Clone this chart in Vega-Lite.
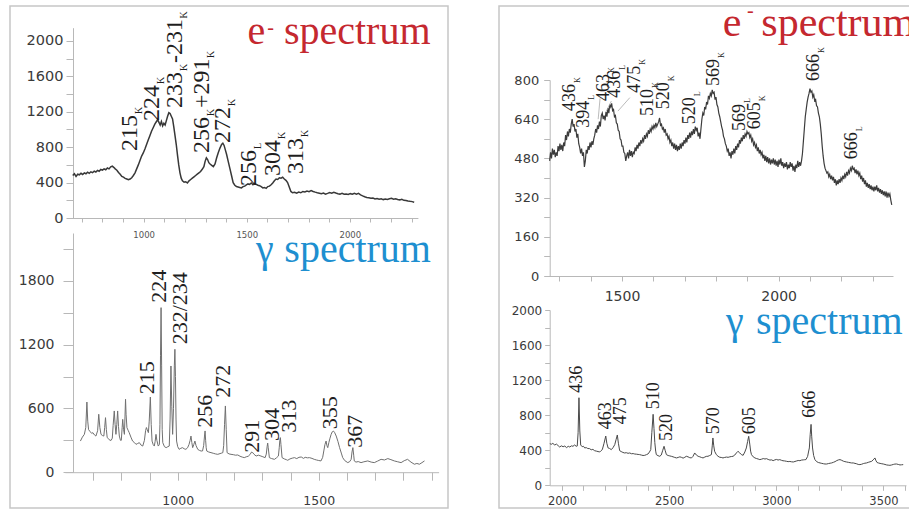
{
"$schema":"https://vega.github.io/schema/vega-lite/v6.json",
"padding":{"left":9,"top":5,"right":0,"bottom":3},
"background":"white",
"spacing":49,
"config":{"view":{"stroke":"#c6c6c6","strokeWidth":1.5},"axis":{"grid":false,"domainColor":"#b8b8b8","tickColor":"#b8b8b8","labelColor":"#3a3a3a","labelFont":"DejaVu Sans","labelFlush":false,"labelOverlap":false,"labelBound":false,"tickCount":100}},
"datasets":{
"ltLine":[{"x":656,"y":480},{"x":664,"y":500},{"x":672,"y":470},{"x":680,"y":495},{"x":688,"y":488},{"x":696,"y":505},{"x":704,"y":492},{"x":712,"y":510},{"x":720,"y":500},{"x":728,"y":518},{"x":736,"y":505},{"x":744,"y":522},{"x":752,"y":512},{"x":760,"y":530},{"x":768,"y":520},{"x":776,"y":538},{"x":784,"y":528},{"x":792,"y":548},{"x":800,"y":540},{"x":808,"y":555},{"x":816,"y":545},{"x":824,"y":565},{"x":832,"y":555},{"x":840,"y":578},{"x":848,"y":585},{"x":856,"y":570},{"x":862,"y":555},{"x":870,"y":540},{"x":878,"y":515},{"x":886,"y":495},{"x":894,"y":470},{"x":902,"y":462},{"x":910,"y":448},{"x":918,"y":440},{"x":926,"y":432},{"x":934,"y":440},{"x":942,"y":455},{"x":950,"y":480},{"x":958,"y":510},{"x":966,"y":555},{"x":974,"y":600},{"x":982,"y":650},{"x":990,"y":700},{"x":998,"y":735},{"x":1006,"y":780},{"x":1014,"y":830},{"x":1022,"y":880},{"x":1030,"y":930},{"x":1038,"y":980},{"x":1046,"y":1020},{"x":1054,"y":1060},{"x":1062,"y":1090},{"x":1068,"y":1110},{"x":1074,"y":1080},{"x":1080,"y":1050},{"x":1086,"y":1090},{"x":1092,"y":1040},{"x":1098,"y":1070},{"x":1104,"y":1050},{"x":1110,"y":1100},{"x":1116,"y":1150},{"x":1122,"y":1190},{"x":1128,"y":1180},{"x":1134,"y":1150},{"x":1140,"y":1120},{"x":1146,"y":1030},{"x":1152,"y":930},{"x":1158,"y":830},{"x":1164,"y":710},{"x":1170,"y":600},{"x":1176,"y":510},{"x":1182,"y":450},{"x":1188,"y":420},{"x":1196,"y":405},{"x":1204,"y":410},{"x":1212,"y":395},{"x":1220,"y":420},{"x":1228,"y":435},{"x":1236,"y":450},{"x":1244,"y":465},{"x":1252,"y":480},{"x":1260,"y":495},{"x":1268,"y":510},{"x":1276,"y":525},{"x":1284,"y":550},{"x":1292,"y":580},{"x":1298,"y":640},{"x":1304,"y":680},{"x":1310,"y":660},{"x":1316,"y":625},{"x":1322,"y":610},{"x":1330,"y":595},{"x":1338,"y":580},{"x":1346,"y":610},{"x":1354,"y":680},{"x":1362,"y":740},{"x":1370,"y":790},{"x":1378,"y":830},{"x":1384,"y":845},{"x":1390,"y":820},{"x":1396,"y":770},{"x":1402,"y":720},{"x":1410,"y":640},{"x":1418,"y":560},{"x":1426,"y":480},{"x":1434,"y":400},{"x":1442,"y":370},{"x":1450,"y":355},{"x":1458,"y":350},{"x":1466,"y":345},{"x":1474,"y":340},{"x":1482,"y":355},{"x":1490,"y":360},{"x":1498,"y":375},{"x":1506,"y":385},{"x":1514,"y":380},{"x":1522,"y":395},{"x":1530,"y":375},{"x":1538,"y":390},{"x":1546,"y":380},{"x":1554,"y":370},{"x":1562,"y":365},{"x":1570,"y":355},{"x":1578,"y":340},{"x":1586,"y":345},{"x":1594,"y":335},{"x":1602,"y":355},{"x":1610,"y":360},{"x":1618,"y":375},{"x":1626,"y":395},{"x":1634,"y":420},{"x":1642,"y":440},{"x":1650,"y":435},{"x":1658,"y":455},{"x":1666,"y":450},{"x":1674,"y":460},{"x":1682,"y":440},{"x":1690,"y":425},{"x":1698,"y":400},{"x":1706,"y":350},{"x":1714,"y":300},{"x":1722,"y":285},{"x":1732,"y":290},{"x":1742,"y":280},{"x":1752,"y":292},{"x":1762,"y":285},{"x":1772,"y":300},{"x":1782,"y":295},{"x":1792,"y":305},{"x":1802,"y":298},{"x":1812,"y":310},{"x":1822,"y":300},{"x":1832,"y":292},{"x":1842,"y":285},{"x":1852,"y":280},{"x":1862,"y":275},{"x":1872,"y":282},{"x":1882,"y":270},{"x":1892,"y":278},{"x":1902,"y":288},{"x":1912,"y":280},{"x":1922,"y":290},{"x":1932,"y":282},{"x":1942,"y":275},{"x":1952,"y":270},{"x":1962,"y":278},{"x":1972,"y":268},{"x":1982,"y":272},{"x":1992,"y":265},{"x":2002,"y":275},{"x":2012,"y":268},{"x":2022,"y":280},{"x":2032,"y":270},{"x":2042,"y":278},{"x":2052,"y":262},{"x":2062,"y":250},{"x":2072,"y":240},{"x":2082,"y":232},{"x":2092,"y":228},{"x":2102,"y":222},{"x":2112,"y":225},{"x":2122,"y":215},{"x":2132,"y":220},{"x":2142,"y":212},{"x":2152,"y":218},{"x":2162,"y":208},{"x":2172,"y":215},{"x":2182,"y":210},{"x":2192,"y":218},{"x":2202,"y":222},{"x":2212,"y":212},{"x":2222,"y":218},{"x":2232,"y":210},{"x":2242,"y":205},{"x":2252,"y":212},{"x":2262,"y":200},{"x":2272,"y":198},{"x":2282,"y":192},{"x":2292,"y":188},{"x":2302,"y":185},{"x":2312,"y":178}],
"ltText":[{"x":933.6,"y":757,"t":"215","k":"lab"},{"x":1040.3,"y":1096,"t":"224","k":"lab"},{"x":1151.8,"y":1243,"t":"233","k":"lab"},{"x":1151.8,"y":1751,"t":"-231","k":"lab"},{"x":1282.7,"y":734,"t":"256","k":"lab"},{"x":1282.7,"y":1243,"t":"+291","k":"lab"},{"x":1384.6,"y":847,"t":"272","k":"lab"},{"x":1510.7,"y":362,"t":"256","k":"lab"},{"x":1627,"y":475,"t":"304","k":"lab"},{"x":1738.6,"y":497,"t":"313","k":"lab"},
{"x":977.2,"y":1175,"t":"K","k":"sub"},{"x":1083.9,"y":1514,"t":"K","k":"sub"},{"x":1195.4,"y":1661,"t":"K","k":"sub"},{"x":1195.4,"y":2254,"t":"K","k":"sub"},{"x":1326.3,"y":1153,"t":"K","k":"sub"},{"x":1326.3,"y":1808,"t":"K","k":"sub"},{"x":1428.2,"y":1266,"t":"K","k":"sub"},{"x":1554.3,"y":780,"t":"L","k":"sub"},{"x":1670.6,"y":893,"t":"K","k":"sub"},{"x":1782.2,"y":915,"t":"K","k":"sub"},
{"x":1504,"y":1963,"t":"e","k":"ttl"},{"x":1680,"y":1963,"t":"spectrum","k":"ttl"},{"x":1615,"y":2147,"t":"-","k":"sup"}],
"lbLine":[{"x":655,"y":293},{"x":662,"y":330},{"x":669,"y":356},{"x":674,"y":420},{"x":678,"y":660},{"x":681,"y":480},{"x":684,"y":400},{"x":690,"y":380},{"x":695,"y":365},{"x":699,"y":372},{"x":705,"y":350},{"x":710,"y":340},{"x":716,"y":390},{"x":720,"y":545},{"x":724,"y":420},{"x":728,"y":356},{"x":733,"y":345},{"x":738,"y":340},{"x":741,"y":420},{"x":744,"y":513},{"x":747,"y":400},{"x":750,"y":325},{"x":756,"y":310},{"x":760,"y":300},{"x":764,"y":300},{"x":768,"y":320},{"x":771,"y":440},{"x":775,"y":576},{"x":778,"y":450},{"x":781,"y":356},{"x":784,"y":450},{"x":787,"y":576},{"x":790,"y":430},{"x":793,"y":340},{"x":797,"y":300},{"x":800,"y":300},{"x":803,"y":420},{"x":805,"y":497},{"x":808,"y":400},{"x":811,"y":356},{"x":813,"y":520},{"x":815,"y":686},{"x":817,"y":540},{"x":820,"y":419},{"x":824,"y":395},{"x":828,"y":372},{"x":834,"y":330},{"x":840,"y":293},{"x":846,"y":280},{"x":852,"y":262},{"x":858,"y":270},{"x":864,"y":278},{"x":870,"y":255},{"x":876,"y":246},{"x":882,"y":300},{"x":886,"y":390},{"x":889,"y":420},{"x":892,"y":400},{"x":896,"y":372},{"x":899,"y":480},{"x":903,"y":707},{"x":906,"y":450},{"x":909,"y":293},{"x":913,"y":260},{"x":917,"y":246},{"x":920,"y":290},{"x":923,"y":356},{"x":926,"y":300},{"x":931,"y":246},{"x":935,"y":260},{"x":937,"y":450},{"x":939,"y":1100},{"x":941,"y":1548},{"x":943,"y":1000},{"x":945,"y":400},{"x":947,"y":278},{"x":953,"y":240},{"x":959,"y":231},{"x":965,"y":240},{"x":970,"y":246},{"x":973,"y":500},{"x":976,"y":999},{"x":979,"y":620},{"x":982,"y":356},{"x":985,"y":600},{"x":988,"y":1000},{"x":990,"y":1156},{"x":992,"y":900},{"x":994,"y":500},{"x":996,"y":293},{"x":1000,"y":240},{"x":1005,"y":215},{"x":1011,"y":225},{"x":1017,"y":231},{"x":1023,"y":220},{"x":1029,"y":215},{"x":1035,"y":230},{"x":1040,"y":260},{"x":1044,"y":300},{"x":1047,"y":340},{"x":1050,"y":280},{"x":1053,"y":231},{"x":1057,"y":260},{"x":1061,"y":293},{"x":1065,"y":250},{"x":1071,"y":215},{"x":1077,"y":205},{"x":1083,"y":199},{"x":1088,"y":200},{"x":1092,"y":250},{"x":1095,"y":340},{"x":1097,"y":388},{"x":1099,"y":300},{"x":1101,"y":230},{"x":1103,"y":199},{"x":1110,"y":190},{"x":1118,"y":184},{"x":1126,"y":178},{"x":1134,"y":172},{"x":1142,"y":168},{"x":1150,"y":175},{"x":1156,"y":180},{"x":1160,"y":184},{"x":1163,"y":250},{"x":1166,"y":450},{"x":1169,"y":623},{"x":1172,"y":400},{"x":1175,"y":184},{"x":1182,"y":172},{"x":1189,"y":168},{"x":1197,"y":165},{"x":1205,"y":160},{"x":1213,"y":162},{"x":1221,"y":150},{"x":1229,"y":142},{"x":1236,"y":137},{"x":1243,"y":145},{"x":1250,"y":150},{"x":1256,"y":165},{"x":1262,"y":190},{"x":1266,"y":184},{"x":1270,"y":170},{"x":1278,"y":152},{"x":1286,"y":160},{"x":1295,"y":152},{"x":1302,"y":145},{"x":1310,"y":137},{"x":1314,"y":170},{"x":1317,"y":240},{"x":1319,"y":274},{"x":1321,"y":230},{"x":1325,"y":137},{"x":1333,"y":128},{"x":1343,"y":121},{"x":1350,"y":135},{"x":1357,"y":152},{"x":1360,"y":230},{"x":1362,"y":300},{"x":1364,"y":325},{"x":1366,"y":260},{"x":1370,"y":137},{"x":1378,"y":125},{"x":1385,"y":118},{"x":1390,"y":112},{"x":1398,"y":125},{"x":1406,"y":132},{"x":1414,"y":137},{"x":1422,"y":128},{"x":1430,"y":140},{"x":1438,"y":143},{"x":1446,"y":130},{"x":1452,"y":140},{"x":1460,"y":135},{"x":1467,"y":137},{"x":1476,"y":130},{"x":1484,"y":121},{"x":1492,"y":115},{"x":1500,"y":110},{"x":1508,"y":106},{"x":1514,"y":140},{"x":1518,"y":200},{"x":1522,"y":260},{"x":1526,"y":293},{"x":1529,"y":250},{"x":1532,"y":231},{"x":1536,"y":280},{"x":1540,"y":320},{"x":1544,"y":356},{"x":1548,"y":380},{"x":1552,"y":387},{"x":1556,"y":375},{"x":1562,"y":340},{"x":1568,"y":290},{"x":1574,"y":231},{"x":1580,"y":180},{"x":1585,"y":137},{"x":1592,"y":110},{"x":1603,"y":90},{"x":1610,"y":100},{"x":1615,"y":121},{"x":1618,"y":190},{"x":1621,"y":231},{"x":1624,"y":160},{"x":1626,"y":106},{"x":1632,"y":95},{"x":1640,"y":100},{"x":1650,"y":90},{"x":1660,"y":98},{"x":1674,"y":106},{"x":1686,"y":95},{"x":1697,"y":90},{"x":1709,"y":105},{"x":1721,"y":121},{"x":1733,"y":115},{"x":1745,"y":128},{"x":1756,"y":118},{"x":1768,"y":106},{"x":1780,"y":98},{"x":1792,"y":90},{"x":1803,"y":108},{"x":1815,"y":121},{"x":1827,"y":95},{"x":1839,"y":75},{"x":1848,"y":82},{"x":1857,"y":75},{"x":1866,"y":90},{"x":1875,"y":106}],
"lbText":[{"x":891,"y":733,"t":"215","k":"lab"},{"x":932,"y":1595,"t":"224","k":"lab"},{"x":1008,"y":1203,"t":"232/234","k":"lab"},{"x":1097,"y":419,"t":"256","k":"lab"},{"x":1162,"y":701,"t":"272","k":"lab"},{"x":1263,"y":183,"t":"291","k":"lab"},{"x":1334,"y":294,"t":"304","k":"lab"},{"x":1393,"y":372,"t":"313","k":"lab"},{"x":1540,"y":404,"t":"355","k":"lab"},{"x":1629,"y":230,"t":"367","k":"lab"},{"x":1278,"y":1977,"t":"γ","k":"ttl"},{"x":1378,"y":1977,"t":"spectrum","k":"ttl"}],
"rtLine":[{"x":1269,"y":470},{"x":1272,"y":505},{"x":1275,"y":480},{"x":1278,"y":520},{"x":1281,"y":495},{"x":1284,"y":515},{"x":1287,"y":485},{"x":1290,"y":505},{"x":1293,"y":490},{"x":1296,"y":530},{"x":1299,"y":510},{"x":1302,"y":540},{"x":1305,"y":515},{"x":1308,"y":535},{"x":1311,"y":510},{"x":1314,"y":545},{"x":1317,"y":530},{"x":1320,"y":575},{"x":1323,"y":555},{"x":1326,"y":590},{"x":1329,"y":570},{"x":1332,"y":600},{"x":1335,"y":585},{"x":1338,"y":620},{"x":1341,"y":640},{"x":1344,"y":610},{"x":1347,"y":620},{"x":1350,"y":590},{"x":1353,"y":600},{"x":1356,"y":565},{"x":1359,"y":580},{"x":1362,"y":540},{"x":1365,"y":525},{"x":1368,"y":500},{"x":1371,"y":520},{"x":1374,"y":490},{"x":1377,"y":505},{"x":1380,"y":445},{"x":1383,"y":470},{"x":1386,"y":515},{"x":1389,"y":500},{"x":1392,"y":530},{"x":1395,"y":515},{"x":1398,"y":545},{"x":1401,"y":525},{"x":1404,"y":550},{"x":1407,"y":535},{"x":1410,"y":560},{"x":1413,"y":575},{"x":1416,"y":600},{"x":1419,"y":585},{"x":1422,"y":615},{"x":1425,"y":600},{"x":1428,"y":630},{"x":1431,"y":610},{"x":1434,"y":655},{"x":1437,"y":665},{"x":1440,"y":640},{"x":1443,"y":655},{"x":1446,"y":635},{"x":1449,"y":670},{"x":1452,"y":650},{"x":1455,"y":685},{"x":1458,"y":665},{"x":1461,"y":700},{"x":1464,"y":690},{"x":1467,"y":705},{"x":1470,"y":675},{"x":1473,"y":680},{"x":1476,"y":650},{"x":1479,"y":655},{"x":1482,"y":625},{"x":1485,"y":620},{"x":1488,"y":595},{"x":1491,"y":590},{"x":1494,"y":560},{"x":1497,"y":555},{"x":1500,"y":530},{"x":1503,"y":530},{"x":1506,"y":505},{"x":1509,"y":500},{"x":1512,"y":470},{"x":1515,"y":490},{"x":1518,"y":505},{"x":1521,"y":480},{"x":1524,"y":515},{"x":1527,"y":490},{"x":1530,"y":510},{"x":1533,"y":485},{"x":1536,"y":505},{"x":1539,"y":500},{"x":1542,"y":525},{"x":1545,"y":510},{"x":1548,"y":535},{"x":1551,"y":520},{"x":1554,"y":545},{"x":1557,"y":530},{"x":1560,"y":555},{"x":1563,"y":540},{"x":1566,"y":560},{"x":1569,"y":550},{"x":1572,"y":575},{"x":1575,"y":560},{"x":1578,"y":580},{"x":1581,"y":570},{"x":1584,"y":595},{"x":1587,"y":580},{"x":1590,"y":600},{"x":1593,"y":590},{"x":1596,"y":610},{"x":1599,"y":600},{"x":1602,"y":615},{"x":1605,"y":605},{"x":1608,"y":625},{"x":1611,"y":610},{"x":1614,"y":620},{"x":1617,"y":630},{"x":1620,"y":645},{"x":1623,"y":615},{"x":1626,"y":620},{"x":1629,"y":600},{"x":1632,"y":605},{"x":1635,"y":585},{"x":1638,"y":600},{"x":1641,"y":575},{"x":1644,"y":580},{"x":1647,"y":560},{"x":1650,"y":570},{"x":1653,"y":545},{"x":1656,"y":555},{"x":1659,"y":530},{"x":1662,"y":545},{"x":1665,"y":520},{"x":1668,"y":540},{"x":1671,"y":515},{"x":1674,"y":535},{"x":1677,"y":510},{"x":1680,"y":530},{"x":1683,"y":515},{"x":1686,"y":540},{"x":1689,"y":520},{"x":1692,"y":545},{"x":1695,"y":530},{"x":1698,"y":555},{"x":1701,"y":540},{"x":1704,"y":565},{"x":1707,"y":545},{"x":1710,"y":575},{"x":1713,"y":560},{"x":1716,"y":585},{"x":1719,"y":565},{"x":1722,"y":590},{"x":1725,"y":575},{"x":1728,"y":600},{"x":1731,"y":580},{"x":1734,"y":610},{"x":1737,"y":595},{"x":1740,"y":605},{"x":1743,"y":570},{"x":1746,"y":585},{"x":1749,"y":560},{"x":1752,"y":600},{"x":1755,"y":640},{"x":1758,"y":665},{"x":1761,"y":655},{"x":1764,"y":690},{"x":1767,"y":680},{"x":1770,"y":710},{"x":1773,"y":700},{"x":1776,"y":735},{"x":1779,"y":725},{"x":1782,"y":745},{"x":1785,"y":735},{"x":1788,"y":760},{"x":1791,"y":745},{"x":1794,"y":750},{"x":1797,"y":720},{"x":1800,"y":730},{"x":1803,"y":700},{"x":1806,"y":690},{"x":1809,"y":665},{"x":1812,"y":650},{"x":1815,"y":630},{"x":1818,"y":610},{"x":1821,"y":595},{"x":1824,"y":570},{"x":1827,"y":560},{"x":1830,"y":540},{"x":1833,"y":530},{"x":1836,"y":510},{"x":1839,"y":520},{"x":1842,"y":490},{"x":1845,"y":505},{"x":1848,"y":480},{"x":1851,"y":510},{"x":1854,"y":495},{"x":1857,"y":520},{"x":1860,"y":500},{"x":1863,"y":530},{"x":1866,"y":515},{"x":1869,"y":540},{"x":1872,"y":525},{"x":1875,"y":555},{"x":1878,"y":540},{"x":1881,"y":565},{"x":1884,"y":550},{"x":1887,"y":575},{"x":1890,"y":560},{"x":1893,"y":580},{"x":1896,"y":570},{"x":1899,"y":590},{"x":1902,"y":580},{"x":1905,"y":585},{"x":1908,"y":565},{"x":1911,"y":575},{"x":1914,"y":550},{"x":1917,"y":560},{"x":1920,"y":535},{"x":1923,"y":545},{"x":1926,"y":525},{"x":1929,"y":535},{"x":1932,"y":510},{"x":1935,"y":525},{"x":1938,"y":500},{"x":1941,"y":515},{"x":1944,"y":495},{"x":1947,"y":505},{"x":1950,"y":480},{"x":1953,"y":495},{"x":1956,"y":470},{"x":1959,"y":490},{"x":1962,"y":465},{"x":1965,"y":485},{"x":1968,"y":460},{"x":1971,"y":480},{"x":1974,"y":455},{"x":1977,"y":475},{"x":1980,"y":460},{"x":1983,"y":480},{"x":1986,"y":455},{"x":1989,"y":475},{"x":1992,"y":450},{"x":1995,"y":470},{"x":1998,"y":445},{"x":2001,"y":475},{"x":2004,"y":455},{"x":2007,"y":480},{"x":2010,"y":450},{"x":2013,"y":465},{"x":2016,"y":440},{"x":2019,"y":460},{"x":2022,"y":445},{"x":2025,"y":465},{"x":2028,"y":435},{"x":2031,"y":455},{"x":2034,"y":440},{"x":2037,"y":465},{"x":2040,"y":445},{"x":2043,"y":460},{"x":2046,"y":430},{"x":2049,"y":450},{"x":2052,"y":425},{"x":2055,"y":455},{"x":2058,"y":440},{"x":2061,"y":470},{"x":2064,"y":445},{"x":2067,"y":465},{"x":2070,"y":450},{"x":2073,"y":470},{"x":2076,"y":500},{"x":2079,"y":550},{"x":2082,"y":600},{"x":2085,"y":650},{"x":2088,"y":680},{"x":2091,"y":710},{"x":2094,"y":730},{"x":2097,"y":745},{"x":2100,"y":765},{"x":2103,"y":750},{"x":2106,"y":755},{"x":2109,"y":730},{"x":2112,"y":740},{"x":2115,"y":715},{"x":2118,"y":720},{"x":2121,"y":695},{"x":2124,"y":690},{"x":2127,"y":665},{"x":2130,"y":650},{"x":2133,"y":620},{"x":2136,"y":580},{"x":2139,"y":530},{"x":2142,"y":490},{"x":2145,"y":460},{"x":2148,"y":440},{"x":2151,"y":430},{"x":2154,"y":420},{"x":2157,"y":425},{"x":2160,"y":405},{"x":2163,"y":415},{"x":2166,"y":395},{"x":2169,"y":410},{"x":2172,"y":390},{"x":2175,"y":405},{"x":2178,"y":380},{"x":2181,"y":395},{"x":2184,"y":370},{"x":2187,"y":390},{"x":2190,"y":375},{"x":2193,"y":395},{"x":2196,"y":380},{"x":2199,"y":400},{"x":2202,"y":390},{"x":2205,"y":410},{"x":2208,"y":395},{"x":2211,"y":415},{"x":2214,"y":405},{"x":2217,"y":425},{"x":2220,"y":410},{"x":2223,"y":430},{"x":2226,"y":420},{"x":2229,"y":440},{"x":2232,"y":430},{"x":2235,"y":450},{"x":2238,"y":435},{"x":2241,"y":440},{"x":2244,"y":420},{"x":2247,"y":435},{"x":2250,"y":415},{"x":2253,"y":430},{"x":2256,"y":410},{"x":2259,"y":420},{"x":2262,"y":395},{"x":2265,"y":410},{"x":2268,"y":385},{"x":2271,"y":400},{"x":2274,"y":375},{"x":2277,"y":390},{"x":2280,"y":365},{"x":2283,"y":380},{"x":2286,"y":360},{"x":2289,"y":375},{"x":2292,"y":355},{"x":2295,"y":370},{"x":2298,"y":350},{"x":2301,"y":365},{"x":2304,"y":345},{"x":2307,"y":365},{"x":2310,"y":350},{"x":2313,"y":370},{"x":2316,"y":345},{"x":2319,"y":360},{"x":2322,"y":340},{"x":2325,"y":355},{"x":2328,"y":335},{"x":2331,"y":350},{"x":2334,"y":330},{"x":2337,"y":345},{"x":2340,"y":325},{"x":2343,"y":345},{"x":2346,"y":320},{"x":2349,"y":340},{"x":2352,"y":325},{"x":2355,"y":335},{"x":2358,"y":310},{"x":2361,"y":290}],
"rtText":[{"x":1335.6,"y":673.5,"t":"436","k":"lab"},{"x":1378.7,"y":605.3,"t":"394","k":"lab"},{"x":1442.5,"y":714.3,"t":"463","k":"lab"},{"x":1477.7,"y":727.8,"t":"436","k":"lab"},{"x":1541.5,"y":748.2,"t":"475","k":"lab"},{"x":1583,"y":653,"t":"510","k":"lab"},{"x":1634.1,"y":680.4,"t":"520","k":"lab"},{"x":1717,"y":619.2,"t":"520","k":"lab"},{"x":1793.6,"y":775.5,"t":"569","k":"lab"},{"x":1876.6,"y":591.8,"t":"569","k":"lab"},{"x":1924.5,"y":598.8,"t":"605","k":"lab"},{"x":2112.8,"y":795.9,"t":"666","k":"lab"},{"x":2234.2,"y":476.3,"t":"666","k":"lab"},
{"x":1361,"y":787.8,"t":"K","k":"sub"},{"x":1404.2,"y":719.6,"t":"L","k":"sub"},{"x":1468,"y":828.6,"t":"K","k":"sub"},{"x":1503.2,"y":842,"t":"L","k":"sub"},{"x":1567,"y":862.4,"t":"K","k":"sub"},{"x":1608.5,"y":767.3,"t":"K","k":"sub"},{"x":1659.6,"y":794.7,"t":"K","k":"sub"},{"x":1742.5,"y":733.5,"t":"L","k":"sub"},{"x":1819.1,"y":889.8,"t":"K","k":"sub"},{"x":1902.1,"y":706.1,"t":"L","k":"sub"},{"x":1950,"y":713.1,"t":"K","k":"sub"},{"x":2138.3,"y":910.2,"t":"K","k":"sub"},{"x":2259.7,"y":590.6,"t":"L","k":"sub"},
{"x":1822,"y":980,"t":"e","k":"ttl"},{"x":1944.6,"y":980,"t":"spectrum","k":"ttl"},{"x":1910,"y":1082,"t":"-","k":"sup"}],
"rtLead":[{"x":1430,"y":725,"x2":1424,"y2":640},{"x":1466,"y":714,"x2":1450,"y2":673},{"x":1525,"y":728,"x2":1487,"y2":673}],
"rbLine":[{"x":1943,"y":475},{"x":1950,"y":468},{"x":1957,"y":478},{"x":1966,"y":460},{"x":1974,"y":470},{"x":1982,"y":452},{"x":1989,"y":437},{"x":1997,"y":450},{"x":2005,"y":440},{"x":2013,"y":448},{"x":2021,"y":430},{"x":2029,"y":445},{"x":2036,"y":437},{"x":2044,"y":450},{"x":2051,"y":445},{"x":2059,"y":460},{"x":2066,"y":445},{"x":2071,"y":448},{"x":2075,"y":600},{"x":2079,"y":999},{"x":2083,"y":620},{"x":2087,"y":460},{"x":2094,"y":440},{"x":2100,"y":445},{"x":2106,"y":426},{"x":2113,"y":430},{"x":2120,"y":420},{"x":2129,"y":418},{"x":2136,"y":405},{"x":2144,"y":410},{"x":2152,"y":395},{"x":2160,"y":390},{"x":2168,"y":385},{"x":2176,"y":380},{"x":2182,"y":395},{"x":2188,"y":407},{"x":2196,"y":480},{"x":2204,"y":562},{"x":2209,"y":480},{"x":2215,"y":426},{"x":2222,"y":420},{"x":2230,"y":407},{"x":2238,"y":430},{"x":2246,"y":464},{"x":2252,"y":520},{"x":2258,"y":574},{"x":2263,"y":480},{"x":2269,"y":395},{"x":2276,"y":385},{"x":2284,"y":375},{"x":2292,"y":369},{"x":2300,"y":372},{"x":2308,"y":365},{"x":2316,"y":369},{"x":2324,"y":360},{"x":2332,"y":362},{"x":2339,"y":357},{"x":2347,"y":355},{"x":2355,"y":352},{"x":2362,"y":350},{"x":2370,"y":345},{"x":2378,"y":340},{"x":2386,"y":342},{"x":2394,"y":350},{"x":2401,"y":357},{"x":2408,"y":380},{"x":2414,"y":407},{"x":2419,"y":600},{"x":2425,"y":810},{"x":2429,"y":650},{"x":2433,"y":487},{"x":2437,"y":390},{"x":2440,"y":350},{"x":2448,"y":338},{"x":2456,"y":331},{"x":2463,"y":345},{"x":2470,"y":400},{"x":2476,"y":445},{"x":2481,"y":400},{"x":2487,"y":350},{"x":2495,"y":340},{"x":2503,"y":335},{"x":2510,"y":331},{"x":2518,"y":325},{"x":2526,"y":318},{"x":2534,"y":312},{"x":2542,"y":318},{"x":2550,"y":325},{"x":2557,"y":319},{"x":2565,"y":310},{"x":2573,"y":320},{"x":2580,"y":331},{"x":2588,"y":325},{"x":2596,"y":315},{"x":2604,"y":312},{"x":2611,"y":330},{"x":2619,"y":369},{"x":2627,"y":345},{"x":2635,"y":331},{"x":2643,"y":325},{"x":2650,"y":318},{"x":2658,"y":312},{"x":2666,"y":322},{"x":2673,"y":330},{"x":2681,"y":331},{"x":2689,"y":340},{"x":2697,"y":350},{"x":2701,"y":450},{"x":2704,"y":540},{"x":2708,"y":450},{"x":2712,"y":388},{"x":2720,"y":350},{"x":2728,"y":331},{"x":2736,"y":320},{"x":2743,"y":318},{"x":2751,"y":312},{"x":2759,"y":318},{"x":2767,"y":322},{"x":2775,"y":319},{"x":2783,"y":325},{"x":2790,"y":328},{"x":2798,"y":331},{"x":2806,"y":345},{"x":2814,"y":370},{"x":2821,"y":388},{"x":2829,"y":370},{"x":2837,"y":350},{"x":2845,"y":342},{"x":2853,"y":380},{"x":2860,"y":426},{"x":2866,"y":500},{"x":2871,"y":559},{"x":2876,"y":470},{"x":2880,"y":390},{"x":2884,"y":350},{"x":2892,"y":325},{"x":2900,"y":312},{"x":2908,"y":305},{"x":2915,"y":300},{"x":2923,"y":293},{"x":2931,"y":298},{"x":2939,"y":305},{"x":2947,"y":300},{"x":2954,"y":304},{"x":2962,"y":295},{"x":2970,"y":288},{"x":2978,"y":290},{"x":2985,"y":281},{"x":2993,"y":290},{"x":3001,"y":295},{"x":3008,"y":288},{"x":3016,"y":293},{"x":3024,"y":285},{"x":3031,"y":280},{"x":3039,"y":278},{"x":3047,"y":274},{"x":3055,"y":270},{"x":3063,"y":272},{"x":3071,"y":268},{"x":3079,"y":266},{"x":3087,"y":272},{"x":3095,"y":278},{"x":3102,"y":283},{"x":3110,"y":281},{"x":3118,"y":288},{"x":3126,"y":290},{"x":3132,"y":292},{"x":3138,"y":293},{"x":3146,"y":330},{"x":3150,"y":380},{"x":3154,"y":426},{"x":3158,"y":580},{"x":3162,"y":695},{"x":3165,"y":560},{"x":3169,"y":426},{"x":3174,"y":340},{"x":3180,"y":293},{"x":3188,"y":270},{"x":3196,"y":260},{"x":3204,"y":255},{"x":3212,"y":250},{"x":3220,"y":246},{"x":3227,"y":243},{"x":3235,"y":243},{"x":3243,"y":248},{"x":3251,"y":252},{"x":3258,"y":255},{"x":3266,"y":262},{"x":3274,"y":270},{"x":3282,"y":282},{"x":3290,"y":290},{"x":3297,"y":293},{"x":3305,"y":285},{"x":3313,"y":275},{"x":3320,"y":270},{"x":3328,"y":266},{"x":3336,"y":262},{"x":3344,"y":258},{"x":3351,"y":255},{"x":3359,"y":255},{"x":3367,"y":250},{"x":3375,"y":245},{"x":3382,"y":238},{"x":3390,"y":236},{"x":3398,"y":240},{"x":3406,"y":248},{"x":3413,"y":252},{"x":3421,"y":255},{"x":3429,"y":262},{"x":3437,"y":268},{"x":3445,"y":274},{"x":3452,"y":290},{"x":3460,"y":312},{"x":3465,"y":280},{"x":3470,"y":260},{"x":3476,"y":255},{"x":3484,"y":250},{"x":3492,"y":246},{"x":3499,"y":243},{"x":3507,"y":238},{"x":3515,"y":232},{"x":3522,"y":230},{"x":3530,"y":228},{"x":3538,"y":232},{"x":3546,"y":238},{"x":3553,"y":242},{"x":3561,"y":243},{"x":3569,"y":238},{"x":3577,"y":232},{"x":3584,"y":234},{"x":3592,"y":236}],
"rbText":[{"x":2070,"y":1056,"t":"436","k":"lab"},{"x":2206,"y":639,"t":"463","k":"lab"},{"x":2274,"y":696,"t":"475","k":"lab"},{"x":2429,"y":867,"t":"510","k":"lab"},{"x":2490,"y":505,"t":"520","k":"lab"},{"x":2709,"y":582,"t":"570","k":"lab"},{"x":2877,"y":582,"t":"605","k":"lab"},{"x":3157,"y":771,"t":"666","k":"lab"},{"x":2765,"y":1722,"t":"γ","k":"ttl"},{"x":2905,"y":1722,"t":"spectrum","k":"ttl"}]
},
"hconcat":[
{"width":438,"height":502,"resolve":{"scale":{"x":"independent","y":"independent"}},
 "layer":[
  {"layer":[
   {"data":{"name":"ltLine"},"mark":{"type":"line","color":"#383838","strokeWidth":1.5},
    "encoding":{
     "x":{"field":"x","type":"quantitative","scale":{"domain":[631,2330],"range":[57.6,407.9],"zero":false,"nice":false},
      "axis":{"orient":"bottom","offset":-290,"title":null,"values":[700,800,900,1000,1100,1200,1300,1400,1500,1600,1700,1800,1900,2000,2100,2200,2300],"tickCount":100,"format":"d","labelExpr":"datum.value % 500 === 0 ? datum.label : ''","labelOverlap":false,"tickSize":4,"labelPadding":8,"labelFontSize":8.5,"labelColor":"#555"}},
     "y":{"field":"y","type":"quantitative","scale":{"domain":[0,2150],"range":[212,21.7],"zero":false,"nice":false},
      "axis":{"orient":"left","offset":-63,"title":null,"values":[0,200,400,600,800,1000,1200,1400,1600,1800,2000],"tickCount":100,"format":"d","labelExpr":"datum.value % 400 === 0 ? datum.label : ''","labelOverlap":false,"tickSize":7,"labelPadding":3,"labelFontSize":14.5}}}},
   {"data":{"name":"ltText"},"transform":[{"filter":"datum.k === 'lab'"}],"mark":{"type":"text","angle":270,"align":"left","baseline":"middle","font":"Liberation Serif, DejaVu Serif, serif","fontSize":24,"color":"#1e1e1e"},
    "encoding":{"x":{"field":"x","type":"quantitative"},"y":{"field":"y","type":"quantitative"},"text":{"field":"t"}}},
   {"data":{"name":"ltText"},"transform":[{"filter":"datum.k === 'sub'"}],"mark":{"type":"text","angle":270,"align":"left","baseline":"middle","font":"Liberation Serif, DejaVu Serif, serif","fontSize":10,"color":"#1e1e1e","clip":true},
    "encoding":{"x":{"field":"x","type":"quantitative"},"y":{"field":"y","type":"quantitative"},"text":{"field":"t"}}},
   {"data":{"name":"ltText"},"transform":[{"filter":"datum.k === 'ttl'"}],"mark":{"type":"text","align":"left","baseline":"alphabetic","font":"Liberation Serif, DejaVu Serif, serif","fontSize":40,"color":"#c5282f","clip":true},
    "encoding":{"x":{"field":"x","type":"quantitative"},"y":{"field":"y","type":"quantitative"},"text":{"field":"t"}}},
   {"data":{"name":"ltText"},"transform":[{"filter":"datum.k === 'sup'"}],"mark":{"type":"text","align":"center","baseline":"middle","font":"Liberation Serif, DejaVu Serif, serif","fontSize":20,"color":"#c5282f","clip":true},
    "encoding":{"x":{"field":"x","type":"quantitative"},"y":{"field":"y","type":"quantitative"},"text":{"field":"t"}}}
  ]},
  {"layer":[
   {"data":{"name":"lbLine"},"mark":{"type":"line","color":"#707070","strokeWidth":1},
    "encoding":{
     "x":{"field":"x","type":"quantitative","scale":{"domain":[600,1925],"range":[54.9,428.6],"zero":false,"nice":false},
      "axis":{"orient":"bottom","offset":-35.8,"title":null,"values":[700,800,900,1000,1100,1200,1300,1400,1500,1600,1700,1800,1900],"tickCount":100,"format":"d","labelExpr":"datum.value % 500 === 0 ? datum.label : ''","labelOverlap":false,"tickSize":8,"labelPadding":14,"labelFontSize":12.5}},
     "y":{"field":"y","type":"quantitative","scale":{"domain":[0,2250],"range":[466.2,227],"zero":false,"nice":false},
      "axis":{"orient":"left","offset":-63,"title":null,"values":[0,300,600,900,1200,1500,1800,2100],"tickCount":100,"format":"d","labelExpr":"datum.value % 600 === 0 ? datum.label : ''","labelOverlap":false,"tickSize":10,"labelPadding":9,"labelFontSize":14}}}},
   {"data":{"name":"lbText"},"transform":[{"filter":"datum.k === 'lab'"}],"mark":{"type":"text","angle":270,"align":"left","baseline":"middle","font":"Liberation Serif, DejaVu Serif, serif","fontSize":22,"color":"#1e1e1e"},
    "encoding":{"x":{"field":"x","type":"quantitative"},"y":{"field":"y","type":"quantitative"},"text":{"field":"t"}}},
   {"data":{"name":"lbText"},"transform":[{"filter":"datum.k === 'ttl'"}],"mark":{"type":"text","align":"left","baseline":"alphabetic","font":"Liberation Serif, DejaVu Serif, serif","fontSize":40,"color":"#1e8fd0","clip":true},
    "encoding":{"x":{"field":"x","type":"quantitative"},"y":{"field":"y","type":"quantitative"},"text":{"field":"t"}}}
  ]}
 ]},
{"width":412,"height":502,"resolve":{"scale":{"x":"independent","y":"independent"}},
 "layer":[
  {"layer":[
   {"data":{"name":"rtLine"},"mark":{"type":"line","color":"#3c3c3c","strokeWidth":1.2},
    "encoding":{
     "x":{"field":"x","type":"quantitative","scale":{"domain":[1253,2365],"range":[45.6,394],"zero":false,"nice":false},
      "axis":{"orient":"bottom","offset":-232,"title":null,"values":[1300,1400,1500,1600,1700,1800,1900,2000,2100,2200,2300],"tickCount":100,"format":"d","labelExpr":"datum.value % 500 === 0 ? datum.label : ''","labelOverlap":false,"tickSize":5,"labelPadding":8,"labelFontSize":14}},
     "y":{"field":"y","type":"quantitative","scale":{"domain":[0,800],"range":[270,74],"zero":false,"nice":false},
      "axis":{"orient":"left","offset":-50.7,"title":null,"values":[0,80,160,240,320,400,480,560,640,720,800],"tickCount":100,"format":"d","labelExpr":"datum.value % 160 === 0 ? datum.label : ''","labelOverlap":false,"tickSize":6,"labelPadding":5,"labelFontSize":13}}}},
   {"data":{"name":"rtLead"},"mark":{"type":"rule","color":"#aaaaaa","strokeWidth":0.8},
    "encoding":{"x":{"field":"x","type":"quantitative"},"y":{"field":"y","type":"quantitative"},"x2":{"field":"x2"},"y2":{"field":"y2"}}},
   {"data":{"name":"rtText"},"transform":[{"filter":"datum.k === 'lab'"}],"mark":{"type":"text","angle":270,"align":"left","baseline":"middle","font":"Liberation Serif, DejaVu Serif, serif","fontSize":18,"color":"#1e1e1e"},
    "encoding":{"x":{"field":"x","type":"quantitative"},"y":{"field":"y","type":"quantitative"},"text":{"field":"t"}}},
   {"data":{"name":"rtText"},"transform":[{"filter":"datum.k === 'sub'"}],"mark":{"type":"text","angle":270,"align":"left","baseline":"middle","font":"Liberation Serif, DejaVu Serif, serif","fontSize":8,"color":"#1e1e1e","clip":true},
    "encoding":{"x":{"field":"x","type":"quantitative"},"y":{"field":"y","type":"quantitative"},"text":{"field":"t"}}},
   {"data":{"name":"rtText"},"transform":[{"filter":"datum.k === 'ttl'"}],"mark":{"type":"text","align":"left","baseline":"alphabetic","font":"Liberation Serif, DejaVu Serif, serif","fontSize":42,"color":"#c5282f","clip":true},
    "encoding":{"x":{"field":"x","type":"quantitative"},"y":{"field":"y","type":"quantitative"},"text":{"field":"t"}}},
   {"data":{"name":"rtText"},"transform":[{"filter":"datum.k === 'sup'"}],"mark":{"type":"text","align":"center","baseline":"middle","font":"Liberation Serif, DejaVu Serif, serif","fontSize":20,"color":"#c5282f","clip":true},
    "encoding":{"x":{"field":"x","type":"quantitative"},"y":{"field":"y","type":"quantitative"},"text":{"field":"t"}}}
  ]},
  {"layer":[
   {"data":{"name":"rbLine"},"mark":{"type":"line","color":"#4a4a4a","strokeWidth":1},
    "encoding":{
     "x":{"field":"x","type":"quantitative","scale":{"domain":[1942,3605],"range":[50.6,407],"zero":false,"nice":false},
      "axis":{"orient":"bottom","offset":-22.7,"title":null,"values":[2000,2100,2200,2300,2400,2500,2600,2700,2800,2900,3000,3100,3200,3300,3400,3500,3600],"tickCount":100,"format":"d","labelExpr":"datum.value % 500 === 0 ? datum.label : ''","labelOverlap":false,"tickSize":5,"labelPadding":5,"labelFontSize":11.5}},
     "y":{"field":"y","type":"quantitative","scale":{"domain":[0,2000],"range":[479.3,304],"zero":false,"nice":false},
      "axis":{"orient":"left","offset":-50.7,"title":null,"values":[0,200,400,600,800,1000,1200,1400,1600,1800,2000],"tickCount":100,"format":"d","labelExpr":"datum.value % 400 === 0 ? datum.label : ''","labelOverlap":false,"tickSize":5,"labelPadding":3,"labelFontSize":12}}}},
   {"data":{"name":"rbText"},"transform":[{"filter":"datum.k === 'lab'"}],"mark":{"type":"text","angle":270,"align":"left","baseline":"middle","font":"Liberation Serif, DejaVu Serif, serif","fontSize":18,"color":"#1e1e1e"},
    "encoding":{"x":{"field":"x","type":"quantitative"},"y":{"field":"y","type":"quantitative"},"text":{"field":"t"}}},
   {"data":{"name":"rbText"},"transform":[{"filter":"datum.k === 'ttl'"}],"mark":{"type":"text","align":"left","baseline":"alphabetic","font":"Liberation Serif, DejaVu Serif, serif","fontSize":40,"color":"#1e8fd0","clip":true},
    "encoding":{"x":{"field":"x","type":"quantitative"},"y":{"field":"y","type":"quantitative"},"text":{"field":"t"}}}
  ]}
 ]}
]
}
